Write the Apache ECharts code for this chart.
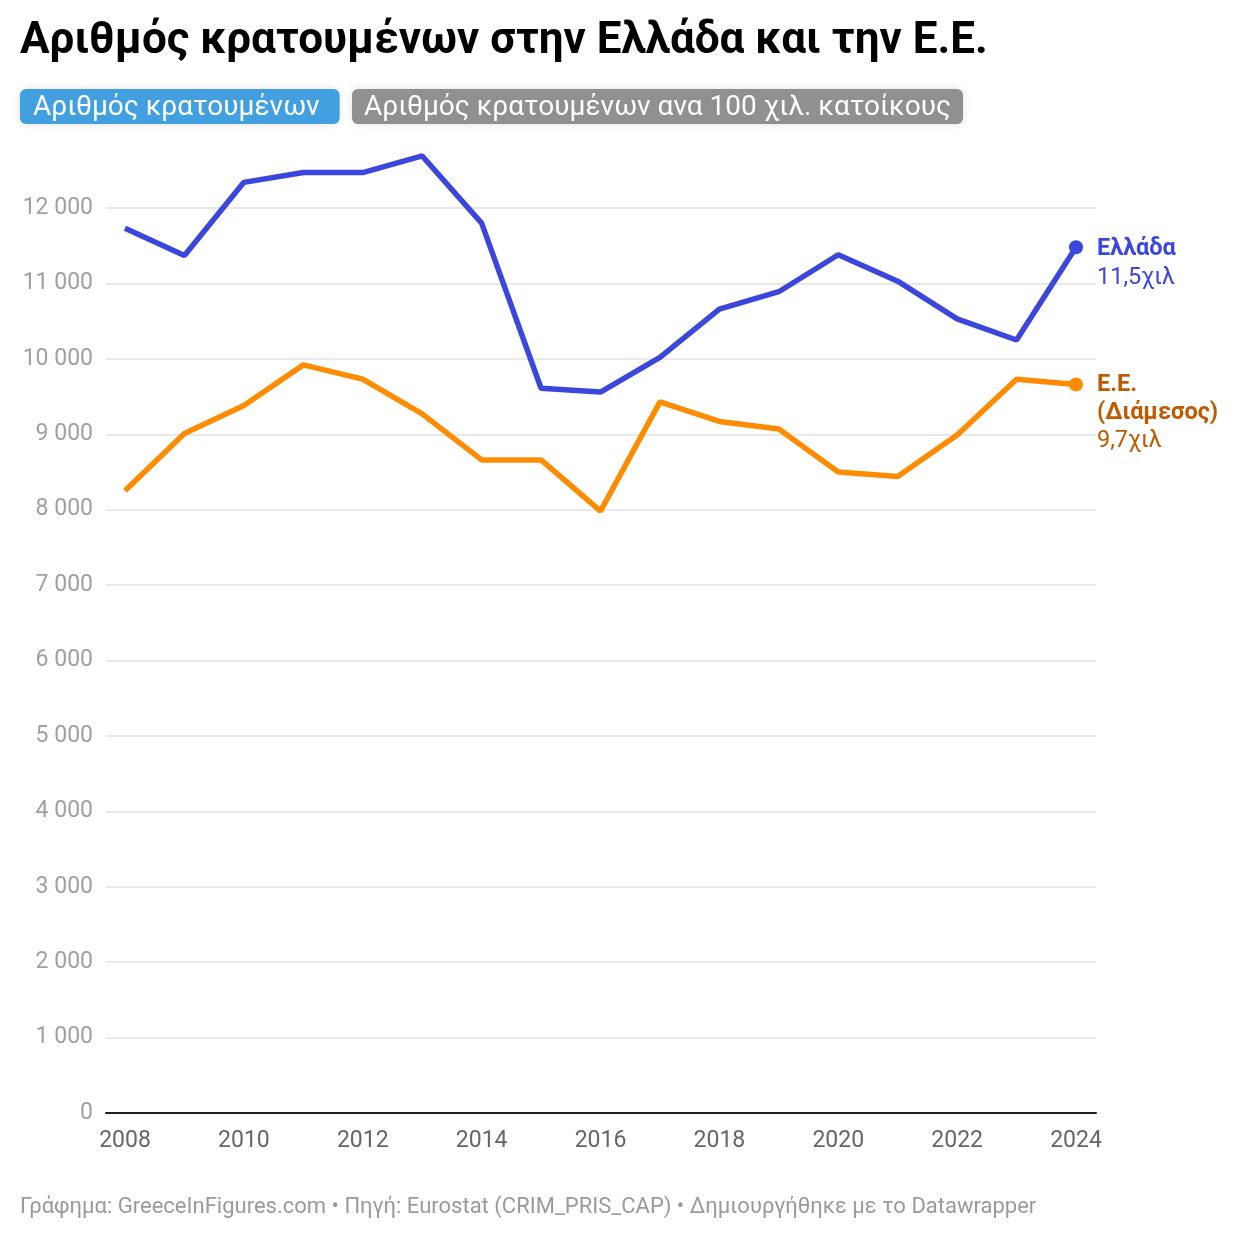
<!DOCTYPE html>
<html lang="el">
<head>
    <meta charset="UTF-8">
    <title>Αριθμός κρατουμένων στην Ελλάδα και την Ε.Ε.</title>
    <script src="https://cdn.jsdelivr.net/npm/echarts@6/dist/echarts.min.js"></script>
</head>
<body style="margin:0;background:#fff">
    <div id="chart" style="width:1240px;height:1240px"></div>
<script type="text/javascript">
// δεδομένα
var years = [2008,2009,2010,2011,2012,2013,2014,2015,2016,2017,2018,2019,2020,2021,2022,2023,2024]
var greece = [11730,11370,12340,12470,12470,12690,11800,9610,9560,10020,10660,10890,11380,11030,10530,10250,11480]
var euMedian = [8250,9010,9380,9920,9730,9270,8660,8660,7980,9430,9170,9070,8500,8440,8990,9730,9660]
var yTicks = [0,1000,2000,3000,4000,5000,6000,7000,8000,9000,10000,11000,12000]
var xTicks = [2008,2010,2012,2014,2016,2018,2020,2022,2024]

var blue = '#3a46dc'
var orange = '#ff8c00'
var orangeText = '#c05a00'
var font = 'Roboto'

function pairs(vals) {
    return years.map(function (y, i) { return [y, vals[i]] })
}
function thousands(v) {
    return String(v).replace(/\B(?=(\d{3})+(?!\d))/g, ' ')
}
function kilo(v) {
    return (v / 1000).toFixed(1).replace('.', ',') + 'χιλ'
}

var chart = echarts.init(document.getElementById('chart'))

var option = {
    animation: false,
    textStyle: { fontFamily: font },
    grid: [
        // πλέγμα φόντου: οριζόντιες γραμμές και άξονας
        { left: 106, right: 144, top: 208, bottom: 127 },
        // δεδομένα
        { left: 125, right: 164, top: 208, bottom: 127 }
    ],
    xAxis: [
        {
            gridIndex: 0, type: 'value', min: 0, max: 1,
            axisLine: { show: true, onZero: false, lineStyle: { color: '#222', width: 2 } },
            axisTick: { show: false }, axisLabel: { show: false }, splitLine: { show: false }
        },
        {
            gridIndex: 1, type: 'value', min: 2008, max: 2024, interval: 2,
            axisLine: { show: false }, axisTick: { show: false }, splitLine: { show: false },
            axisLabel: {
                color: '#666', fontSize: 23, margin: 17, fontFamily: font,
                formatter: function (v) { return xTicks.indexOf(v) >= 0 ? String(v) : '' }
            }
        }
    ],
    yAxis: [
        {
            gridIndex: 0, type: 'value', min: 0, max: 12000, interval: 1000,
            axisLine: { show: false }, axisTick: { show: false },
            splitLine: { show: true, lineStyle: { color: '#e2e2e2', width: 1.5 } },
            axisLabel: {
                color: '#a0a0a0', fontSize: 23, margin: 13, fontFamily: font,
                formatter: function (v) { return yTicks.indexOf(v) >= 0 ? thousands(v) : '' }
            }
        },
        {
            gridIndex: 1, type: 'value', min: 0, max: 12000, interval: 1000,
            axisLine: { show: false }, axisTick: { show: false },
            splitLine: { show: false }, axisLabel: { show: false }
        }
    ],
    series: [
        {
            name: 'Ε.Ε. (Διάμεσος)', type: 'line', xAxisIndex: 1, yAxisIndex: 1,
            data: pairs(euMedian), clip: false,
            lineStyle: { color: orange, width: 5.5 },
            showSymbol: false, symbol: 'none',
            endLabel: {
                show: true, distance: 21, verticalAlign: 'top', offset: [0, -13],
                formatter: function () {
                    return '{b|Ε.Ε.}\n{b|(Διάμεσος)}\n{v|' + kilo(euMedian[euMedian.length - 1]) + '}'
                },
                rich: {
                    b: { fontFamily: font, fontWeight: 'bold', fontSize: 23.5, color: orangeText, lineHeight: 28 },
                    v: { fontFamily: font, fontSize: 23.5, color: orangeText, lineHeight: 28 }
                }
            },
            z: 3
        },
        {
            name: 'Ελλάδα', type: 'line', xAxisIndex: 1, yAxisIndex: 1,
            data: pairs(greece), clip: false,
            lineStyle: { color: blue, width: 5.5 },
            showSymbol: false, symbol: 'none',
            endLabel: {
                show: true, distance: 21, verticalAlign: 'top', offset: [0, -13],
                formatter: function () {
                    return '{b|Ελλάδα}\n{v|' + kilo(greece[greece.length - 1]) + '}'
                },
                rich: {
                    b: { fontFamily: font, fontWeight: 'bold', fontSize: 23.5, color: blue, lineHeight: 29 },
                    v: { fontFamily: font, fontSize: 23.5, color: blue, lineHeight: 29 }
                }
            },
            z: 4
        },
        // τελικά σημεία
        {
            type: 'scatter', xAxisIndex: 1, yAxisIndex: 1, symbolSize: 14,
            data: [[years[years.length - 1], greece[greece.length - 1]]],
            itemStyle: { color: blue, opacity: 1 }, z: 5
        },
        {
            type: 'scatter', xAxisIndex: 1, yAxisIndex: 1, symbolSize: 14,
            data: [[years[years.length - 1], euMedian[euMedian.length - 1]]],
            itemStyle: { color: orange, opacity: 1 }, z: 5
        }
    ],
    graphic: [
        {
            type: 'text', left: 20, top: 20,
            style: {
                text: 'Αριθμός κρατουμένων στην Ελλάδα και την Ε.Ε.',
                fontFamily: font, fontWeight: 'bold', fontSize: 44, fill: '#000'
            }
        },
        {
            type: 'text', left: 20, top: 89,
            style: {
                text: 'Αριθμός κρατουμένων',
                fontFamily: font, fontSize: 28, fill: '#fff',
                backgroundColor: '#42a0e0', borderRadius: 6,
                padding: [3, 20, 1, 13], lineHeight: 31,
                shadowColor: 'rgba(0,0,0,0.12)', shadowBlur: 8
            }
        },
        {
            type: 'text', left: 352, top: 89,
            style: {
                text: 'Αριθμός κρατουμένων ανα 100 χιλ. κατοίκους',
                fontFamily: font, fontSize: 28, fill: '#fff',
                backgroundColor: '#909090', borderRadius: 6,
                padding: [3, 12, 1, 12], lineHeight: 31,
                shadowColor: 'rgba(0,0,0,0.12)', shadowBlur: 8
            }
        },
        {
            type: 'text', left: 20, top: 1196,
            style: {
                text: 'Γράφημα: GreeceInFigures.com • Πηγή: Eurostat (CRIM_PRIS_CAP) • Δημιουργήθηκε με το Datawrapper',
                fontFamily: font, fontSize: 22, fill: '#9a9a9a'
            }
        }
    ]
}

chart.setOption(option)
</script>
</body>
</html>
